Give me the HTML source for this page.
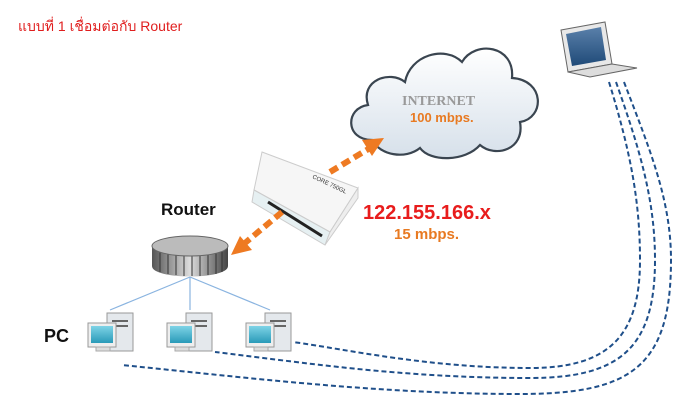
<!DOCTYPE html>
<html><head><meta charset="utf-8"><style>
body{margin:0;background:#fff;width:700px;height:409px;overflow:hidden;position:relative;font-family:"Liberation Sans","Noto Sans CJK SC",sans-serif}
.t{position:absolute;white-space:nowrap}
</style></head><body>
<svg width="700" height="409" style="position:absolute;left:0;top:0">
<defs>
<linearGradient id="cl" x1="0" y1="0" x2="0" y2="1"><stop offset="0" stop-color="#fff"/><stop offset="1" stop-color="#d6e0ea"/></linearGradient>
<linearGradient id="rt" x1="0" y1="0" x2="1" y2="0"><stop offset="0" stop-color="#555"/><stop offset=".5" stop-color="#ddd"/><stop offset="1" stop-color="#444"/></linearGradient>
<linearGradient id="scr" x1="0" y1="0" x2="0" y2="1"><stop offset="0" stop-color="#7fd3e6"/><stop offset="1" stop-color="#2a9ab8"/></linearGradient>
<linearGradient id="lap" x1="0" y1="0" x2="0" y2="1"><stop offset="0" stop-color="#5a80aa"/><stop offset="1" stop-color="#1f4a78"/></linearGradient>
</defs>
<!-- cloud -->
<path d="M372,140 C345,140 345,108 368,105 C360,80 390,70 405,82 C410,55 445,45 462,62 C475,40 515,45 512,78 C545,80 545,118 520,122 C525,150 495,158 480,145 C465,162 430,162 420,148 C405,160 380,155 372,140 Z" fill="url(#cl)" stroke="#3a4550" stroke-width="2.2"/>
<!-- laptop -->
<polygon points="561,30 605,22 612,64 568,72" fill="#e8e8e8" stroke="#666"/>
<polygon points="566,34 601,27 606,60 572,66" fill="url(#lap)"/>
<polygon points="568,72 612,64 637,68 590,77" fill="#ddd" stroke="#666"/>
<!-- dashed lines -->
<g fill="none" stroke="#1f4f8a" stroke-width="2" stroke-dasharray="5,3">
<path d="M609,82 C630,150 640,200 640,260 C640,335 610,368 530,368 C430,368 350,350 293,342"/>
<path d="M616,82 C640,150 655,200 655,260 C655,348 620,378 530,378 C400,378 300,362 215,352"/>
<path d="M624,82 C650,150 671,200 671,260 C671,368 630,394 520,394 C380,394 250,378 122,365"/>
</g>
<!-- mikrotik box -->
<polygon points="262,152 358,188 330,232 254,190" fill="#f6f6f6" stroke="#ccc"/>
<polygon points="254,190 330,232 325,245 252,202" fill="#e6f0f2" stroke="#ccc"/>
<polygon points="358,188 358,198 325,245 330,232" fill="#eee" stroke="#ccc"/>
<line x1="268" y1="202" x2="322" y2="236" stroke="#222" stroke-width="3"/>
<text x="312" y="178" font-size="6" transform="rotate(25 312 178)" fill="#333" font-family="Liberation Sans">CORE 750GL</text>
<!-- orange arrows -->
<g stroke="#ee7a22" stroke-width="6" stroke-dasharray="9,5" fill="none">
<line x1="330" y1="172" x2="370" y2="148"/>
<line x1="282" y1="212" x2="245" y2="243"/>
</g>
<polygon points="384,138 362,140 372,156" fill="#ee7a22"/>
<polygon points="231,255 240,236 252,250" fill="#ee7a22"/>
<!-- router icon -->
<path d="M152,246 L152,266 C152,280 228,280 228,266 L228,246 Z" fill="url(#rt)"/>
<g stroke="#333" stroke-width="1">
<line x1="160" y1="250" x2="160" y2="272"/><line x1="168" y1="252" x2="168" y2="274"/><line x1="176" y1="252" x2="176" y2="275"/><line x1="184" y1="252" x2="184" y2="276"/><line x1="192" y1="252" x2="192" y2="276"/><line x1="200" y1="252" x2="200" y2="276"/><line x1="208" y1="252" x2="208" y2="275"/><line x1="216" y1="252" x2="216" y2="274"/><line x1="222" y1="250" x2="222" y2="272"/>
</g>
<ellipse cx="190" cy="246" rx="38" ry="10" fill="#bbb" stroke="#666"/>
<!-- links -->
<g stroke="#8ab4e0" stroke-width="1.2">
<line x1="190" y1="277" x2="110" y2="310"/><line x1="190" y1="277" x2="190" y2="310"/><line x1="190" y1="277" x2="270" y2="310"/>
</g>
<!-- PCs -->
<g id="pc">
<rect x="107" y="313" width="26" height="38" fill="#e4e8ec" stroke="#999"/>
<rect x="112" y="320" width="16" height="2" fill="#666"/><rect x="112" y="325" width="16" height="2" fill="#666"/>
<rect x="88" y="323" width="28" height="24" fill="#eee" stroke="#999"/>
<rect x="91" y="326" width="22" height="17" fill="url(#scr)"/>
<rect x="96" y="347" width="14" height="4" fill="#ddd" stroke="#aaa"/>
</g>
<use href="#pc" x="79" y="0"/>
<use href="#pc" x="158" y="0"/>
</svg>
<div class="t" style="left:18px;top:16px;font-size:14px;color:#e01e1e">แบบที่ 1 เชื่อมต่อกับ Router</div>
<div class="t" style="left:402px;top:94px;font-size:14px;font-weight:bold;color:#999;font-family:'Liberation Serif',serif">INTERNET</div>
<div class="t" style="left:410px;top:110px;font-size:13px;font-weight:bold;color:#e87a22">100 mbps.</div>
<div class="t" style="left:363px;top:202px;font-size:20px;font-weight:bold;color:#e81c1c">122.155.166.x</div>
<div class="t" style="left:394px;top:226px;font-size:15px;font-weight:bold;color:#e87a22">15 mbps.</div>
<div class="t" style="left:161px;top:200px;font-size:17px;font-weight:bold;color:#111">Router</div>
<div class="t" style="left:44px;top:326px;font-size:18px;font-weight:bold;color:#111">PC</div>
</body></html>
